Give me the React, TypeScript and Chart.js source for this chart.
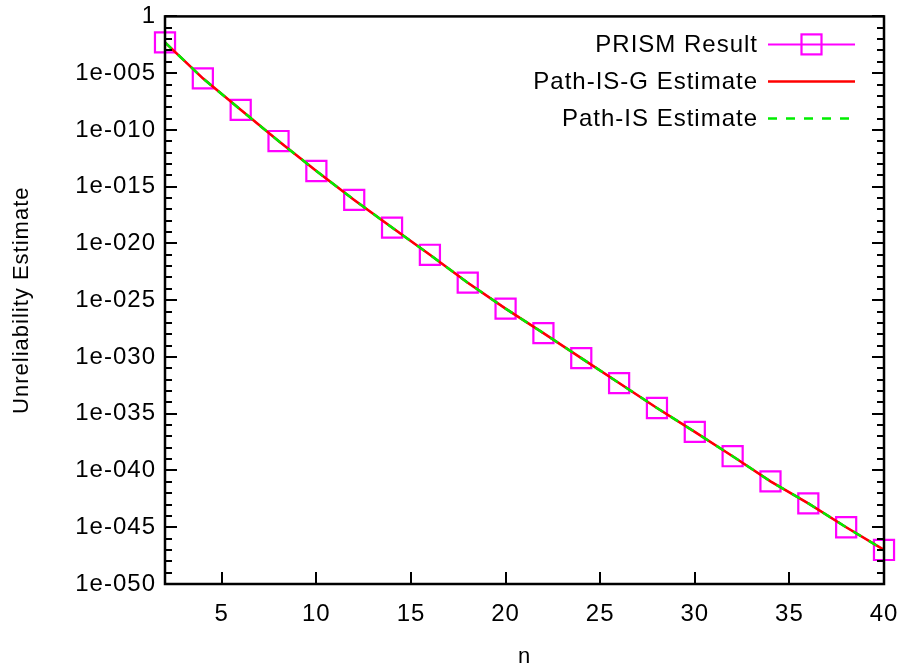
import React, { useEffect, useRef } from 'react';
import { Chart, registerables } from 'chart.js';

Chart.register(...registerables);

// ---- data ----
const nValues = [2, 4, 6, 8, 10, 12, 14, 16, 18, 20, 22, 24, 26, 28, 30, 32, 34, 36, 38, 40];
const prismResult = [
  5.2e-3, 3.5e-6, 5.9e-9, 1.05e-11, 2.4e-14, 6.8e-17, 2.5e-19, 1.0e-21, 3.5e-24, 1.8e-26,
  1.26e-28, 7.9e-31, 5.0e-33, 3.2e-35, 2.5e-37, 1.8e-39, 1.1e-41, 1.26e-43, 1.0e-45, 1.0e-47,
];
const pathISGEstimate = [
  5.2e-3, 3.5e-6, 5.9e-9, 1.05e-11, 2.4e-14, 6.8e-17, 2.5e-19, 1.0e-21, 3.5e-24, 1.8e-26,
  1.26e-28, 7.9e-31, 5.0e-33, 3.2e-35, 2.5e-37, 1.8e-39, 1.1e-41, 1.26e-43, 1.0e-45, 1.0e-47,
];
const pathISEstimate = [
  5.2e-3, 3.5e-6, 5.9e-9, 1.05e-11, 2.4e-14, 6.8e-17, 2.5e-19, 1.0e-21, 3.5e-24, 1.8e-26,
  1.26e-28, 7.9e-31, 5.0e-33, 3.2e-35, 2.5e-37, 1.8e-39, 1.1e-41, 1.26e-43, 1.0e-45, 1.0e-47,
];
const seriesLabels = ['PRISM Result', 'Path-IS-G Estimate', 'Path-IS Estimate'];
const xTickValues = [5, 10, 15, 20, 25, 30, 35, 40];
const yTickValues = [1, 1e-5, 1e-10, 1e-15, 1e-20, 1e-25, 1e-30, 1e-35, 1e-40, 1e-45, 1e-50];
const yTickLabels = ['1', '1e-005', '1e-010', '1e-015', '1e-020', '1e-025', '1e-030', '1e-035', '1e-040', '1e-045', '1e-050'];
const yMinorExponents = Array.from({ length: 51 }, (_, i) => -i);
const xTitle = 'n';
const yTitle = 'Unreliability Estimate';

const FONT = "'Liberation Sans', Arial, sans-serif";
const LS = '1px';

const toPoints = (ys: number[]) => nValues.map((n, i) => ({ x: n, y: ys[i] }));

const framePlugin = {
  id: 'frame',
  beforeUpdate(chart: any) {
    chart.ctx.letterSpacing = LS;
  },
  beforeLayout(chart: any) {
    chart.ctx.letterSpacing = LS;
  },
  beforeDraw(chart: any) {
    const ctx = chart.ctx;
    ctx.letterSpacing = LS;
    ctx.save();
    ctx.fillStyle = '#fff';
    ctx.fillRect(0, 0, chart.width, chart.height);
    ctx.restore();
  },
  afterDatasetsDraw(chart: any) {
    const { ctx, chartArea, scales } = chart;
    const { left, right, top, bottom } = chartArea;
    const xs = scales.x;
    const ys = scales.y;
    ctx.save();
    ctx.strokeStyle = '#000';
    ctx.lineWidth = 2;
    ctx.beginPath();
    yMinorExponents.forEach((e) => {
      const py = Math.round(ys.getPixelForValue(Math.pow(10, e)));
      const len = e % 5 === 0 ? 12 : 7;
      ctx.moveTo(left, py);
      ctx.lineTo(left + len, py);
      ctx.moveTo(right, py);
      ctx.lineTo(right - len, py);
    });
    xTickValues.forEach((v) => {
      const px = Math.round(xs.getPixelForValue(v));
      ctx.moveTo(px, bottom);
      ctx.lineTo(px, bottom - 12);
    });
    ctx.stroke();
    ctx.lineWidth = 2.5;
    ctx.strokeRect(left, top, right - left, bottom - top);
    ctx.restore();
  },
  afterDraw(chart: any) {
    const { ctx, chartArea } = chart;
    const { right, top } = chartArea;
    ctx.save();
    ctx.letterSpacing = LS;
    ctx.font = `24px ${FONT}`;
    ctx.textAlign = 'right';
    ctx.textBaseline = 'middle';
    chart.data.datasets.forEach((ds: any, i: number) => {
      const y = top + 28 + i * 37;
      ctx.fillStyle = '#000';
      ctx.fillText(ds.label, right - 126, y + 1);
      const x0 = right - 116;
      const x1 = right - 29;
      ctx.strokeStyle = ds.borderColor;
      ctx.lineWidth = ds.borderWidth;
      ctx.setLineDash(ds.borderDash || []);
      ctx.beginPath();
      ctx.moveTo(x0, y);
      ctx.lineTo(x1, y);
      ctx.stroke();
      ctx.setLineDash([]);
      if (ds.pointRadius > 0) {
        const s = 20;
        const cx = (x0 + x1) / 2;
        ctx.lineWidth = ds.pointBorderWidth;
        ctx.strokeStyle = ds.pointBorderColor;
        ctx.strokeRect(cx - s / 2, y - s / 2, s, s);
      }
    });
    ctx.restore();
  },
};

export default function App() {
  const ref = useRef<HTMLCanvasElement | null>(null);
  useEffect(() => {
    if (!ref.current) return;
    Chart.defaults.color = '#000';
    Chart.defaults.font.family = FONT;
    const chart = new Chart(ref.current, {
      type: 'line',
      data: {
        datasets: [
          {
            label: seriesLabels[0],
            data: toPoints(prismResult),
            borderColor: '#ff00ff',
            borderWidth: 2,
            pointStyle: 'rect',
            pointRadius: 14.2,
            pointBorderWidth: 2.2,
            pointBorderColor: '#ff00ff',
            pointBackgroundColor: 'rgba(0,0,0,0)',
            fill: false,
            clip: false,
            order: 3,
          } as any,
          {
            label: seriesLabels[1],
            data: toPoints(pathISGEstimate),
            borderColor: '#ff0000',
            borderWidth: 2.5,
            pointRadius: 0,
            fill: false,
            clip: false,
            order: 2,
          } as any,
          {
            label: seriesLabels[2],
            data: toPoints(pathISEstimate),
            borderColor: '#00ee00',
            borderWidth: 2.5,
            borderDash: [9, 9],
            pointRadius: 0,
            fill: false,
            clip: false,
            order: 1,
          } as any,
        ],
      },
      options: {
        responsive: false,
        animation: false,
        events: [],
        layout: { padding: { top: 15, right: 22, left: 0, bottom: 0 } },
        plugins: {
          legend: { display: false },
          tooltip: { enabled: false },
        },
        scales: {
          x: {
            type: 'linear',
            min: 2,
            max: 40,
            grid: { display: false, drawTicks: false },
            border: { display: false },
            afterBuildTicks: (s: any) => {
              s.ticks = xTickValues.map((v) => ({ value: v }));
            },
            afterFit: (s: any) => {
              s.height = 86;
              s.paddingLeft = 0;
              s.paddingRight = 0;
            },
            ticks: {
              autoSkip: false,
              maxRotation: 0,
              padding: 16,
              font: { size: 24, family: FONT },
              color: '#000',
            },
            title: {
              display: true,
              text: xTitle,
              font: { size: 22, family: FONT },
              color: '#000',
              padding: { top: 0, bottom: 0 },
            },
          },
          y: {
            type: 'logarithmic',
            min: 1e-50,
            max: 1,
            grid: { display: false, drawTicks: false },
            border: { display: false },
            afterBuildTicks: (s: any) => {
              s.ticks = yTickValues.map((v) => ({ value: v }));
            },
            afterFit: (s: any) => {
              s.width = 165;
              s.paddingTop = 0;
              s.paddingBottom = 0;
            },
            ticks: {
              autoSkip: false,
              padding: 9,
              font: { size: 24, family: FONT },
              color: '#000',
              callback: (_v: any, i: number) => yTickLabels[i],
            },
            title: {
              display: true,
              text: yTitle,
              font: { size: 22, family: FONT },
              color: '#000',
              padding: { top: 9, bottom: 0 },
            },
          },
        },
      },
      plugins: [framePlugin],
    });
    return () => chart.destroy();
  }, []);
  return (
    <div style={{ position: 'fixed', left: 0, top: 0, width: 906, height: 670, background: '#fff' }}>
      <canvas ref={ref} width={906} height={670} style={{ display: 'block' }} />
    </div>
  );
}
